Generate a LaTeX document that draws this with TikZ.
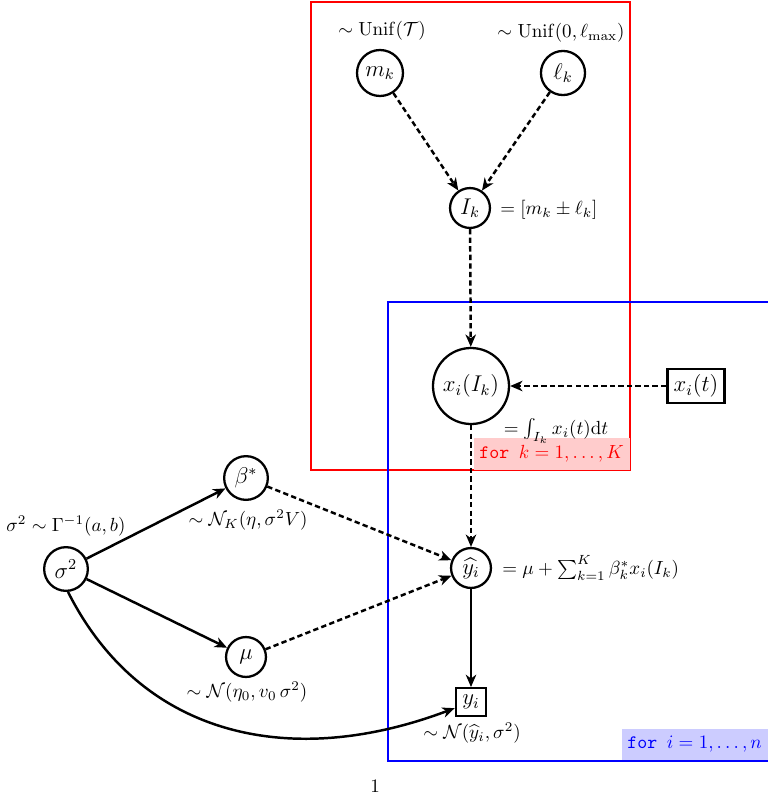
\documentclass[tikz,border=0pt]{standalone}
\usepackage{amsmath}
\usetikzlibrary{arrows.meta}
\begin{document}
\begin{tikzpicture}[x=0.5263pt,y=-0.5263pt,
  rv/.style={circle,draw,line width=1.2pt,inner sep=0pt,font=\large},
  obs/.style={rectangle,draw,line width=1.2pt,inner sep=0pt,font=\large},
  lab/.style={inner sep=0pt},
  arr/.style={-{Stealth[length=6.5pt,width=5.5pt,inset=2pt]},line width=1.3pt},
  darr/.style={arr,dash pattern=on 2.8pt off 1.7pt},
  plate/.style={line width=0.6pt},
]
\useasboundingbox (0,0) rectangle (768,799);

% plates
\draw[plate,red] (311,2) rectangle (630,470);
\draw[plate,blue] (388,302) rectangle (772,761);
\coordinate (redSE) at (630,470);
\coordinate (blueSE) at (768,760.5);
\node[anchor=south east,fill=red!20,text=red,inner xsep=3pt,inner ysep=4pt] (pk) at (redSE) {\texttt{for}\hspace{5pt}$k=1,\ldots,K$};
\node[anchor=south east,fill=blue!20,text=blue,inner xsep=3pt,inner ysep=4pt] (pi) at (blueSE) {\texttt{for}\hspace{5pt}$i=1,\ldots,n$};

% nodes
\node[rv,minimum size=24.2pt] (mk) at (380,73) {$m_k$};
\node[rv,minimum size=23.2pt] (lk) at (563,73) {$\ell_k$};
\node[rv,minimum size=21pt] (Ik) at (470,208) {$I_k$};
\node[rv,minimum size=40pt] (xI) at (471,386) {$x_i(I_k)$};
\node[obs,minimum width=30pt,minimum height=18pt] (xt) at (696,386) {$x_i(t)$};
\node[rv,minimum size=23pt] (beta) at (246,478) {$\beta^*$};
\node[rv,minimum size=23pt] (s2) at (66,569) {$\sigma^2$};
\node[rv,minimum size=21pt] (mu) at (246,657) {$\mu$};
\node[rv,minimum size=21pt] (yhat) at (471,568) {$\widehat{y_i}$};
\node[obs,minimum width=16pt,minimum height=14.5pt] (yi) at (471,702) {$y_i$};

% labels
\node[lab] (lmk) at (382,31) {$\sim\mathrm{Unif}(\mathcal{T})$};
\node[lab] (llk) at (561,33) {$\sim\mathrm{Unif}(0,\ell_{\max})$};
\node[lab,anchor=west] (lIk) at (500,210) {$=[m_k\pm\ell_k]$};
\node[lab] (lxI) at (556,431) {$=\int_{I_k}x_i(t)\mathrm{d}t$};
\node[lab] (lbeta) at (248,520) {$\sim\mathcal{N}_K(\eta,\sigma^2V)$};
\node[lab] (ls2) at (66,526) {$\sigma^2\sim\Gamma^{-1}(a,b)$};
\node[lab] (lmu) at (247,692) {$\sim\mathcal{N}(\eta_0,v_0\,\sigma^2)$};
\node[lab,anchor=west] (lyhat) at (502,568) {$=\mu+\sum_{k=1}^{K}\beta^*_kx_i(I_k)$};
\node[lab] (lyi) at (472,733) {$\sim\mathcal{N}(\widehat{y}_i,\sigma^2)$};
\node[lab] (page) at (375,786) {1};

% edges
\draw[darr] (mk) -- (Ik);
\draw[darr] (lk) -- (Ik);
\draw[darr] (Ik) -- (xI);
\draw[darr] (xt) -- (xI);
\draw[darr] (xI) -- (yhat);
\draw[darr] (beta) -- (yhat);
\draw[darr] (mu) -- (yhat);
\draw[arr] (yhat) -- (yi);
\draw[arr] (s2) -- (beta);
\draw[arr] (s2) -- (mu);
\draw[arr] (s2.-85) .. controls (140,735) and (288,771) .. (yi);
\end{tikzpicture}
\end{document}
